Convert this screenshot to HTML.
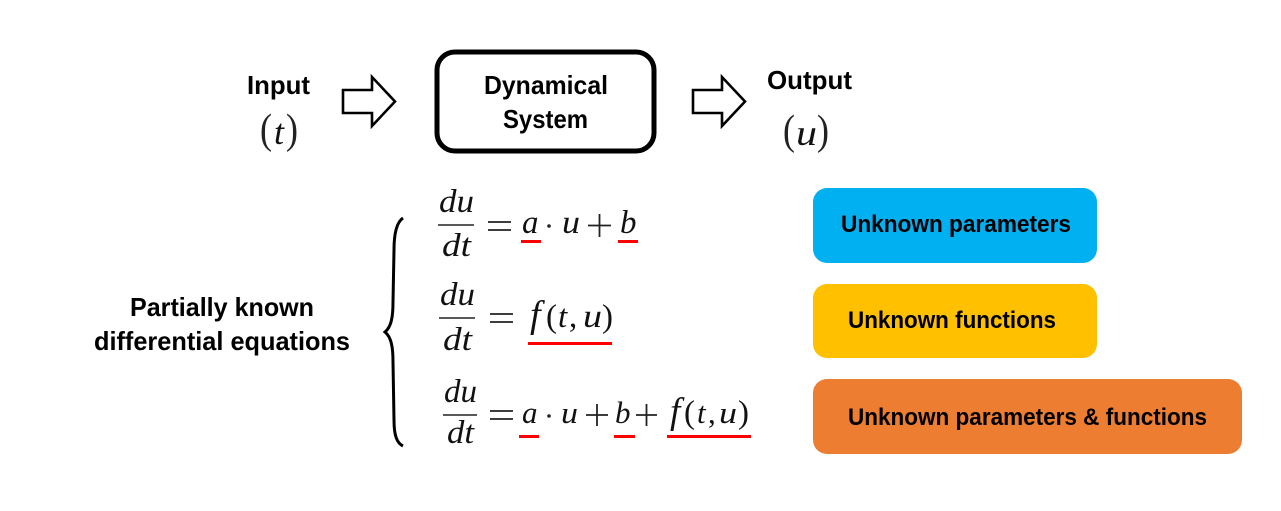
<!DOCTYPE html>
<html><head><meta charset="utf-8"><style>
html,body{margin:0;padding:0;background:#fff;width:1281px;height:511px;overflow:hidden}
svg{display:block}
.l{font-family:"Liberation Sans",sans-serif;font-weight:bold;font-size:26px;fill:#000}
.b{font-family:"Liberation Sans",sans-serif;font-weight:bold;font-size:24px;fill:#000}
.m{font-family:"Liberation Serif",serif;font-style:italic;font-size:33px;fill:#111}
.r{font-family:"Liberation Serif",serif;font-size:33px;fill:#111}
.p{font-family:"Liberation Serif",serif;font-size:42px;fill:#222}
</style></head><body>
<svg width="1281" height="511" viewBox="0 0 1281 511" xmlns="http://www.w3.org/2000/svg">
<rect width="1281" height="511" fill="#fff"/>
<text class="l" x="247" y="94" textLength="63" lengthAdjust="spacingAndGlyphs">Input</text>
<text class="l" x="767" y="89" textLength="85" lengthAdjust="spacingAndGlyphs">Output</text>
<text class="p" x="260" y="143" textLength="12" lengthAdjust="spacingAndGlyphs">(</text>
<text class="m" x="274" y="144" style="font-size:36px">t</text>
<text class="p" x="286" y="143" textLength="12" lengthAdjust="spacingAndGlyphs">)</text>
<text class="p" x="783" y="144" textLength="12" lengthAdjust="spacingAndGlyphs">(</text>
<text class="m" x="796" y="145" style="font-size:36px" textLength="21" lengthAdjust="spacingAndGlyphs">u</text>
<text class="p" x="817" y="144" textLength="12" lengthAdjust="spacingAndGlyphs">)</text>
<path d="M343 90H372V77L395 101.500L372 126V113H343Z" fill="#fff" stroke="#000" stroke-width="2.600"/>
<path d="M693 90H722V77L745 101.500L722 126V113H693Z" fill="#fff" stroke="#000" stroke-width="2.600"/>
<rect x="437" y="52" width="217" height="99" rx="18" fill="#fff" stroke="#000" stroke-width="5"/>
<text class="l" x="484" y="94" textLength="124" lengthAdjust="spacingAndGlyphs">Dynamical</text>
<text class="l" x="503" y="128" textLength="85" lengthAdjust="spacingAndGlyphs">System</text>
<text class="l" x="130" y="316" textLength="184" lengthAdjust="spacingAndGlyphs">Partially known</text>
<text class="l" x="94" y="350" textLength="256" lengthAdjust="spacingAndGlyphs">differential equations</text>
<path d="M403 218C397 222 394 232 394 250L393 302C393 318 391 327 385 332C391 337 393 346 393 362L394 420C394 436 397 443 403 446" fill="none" stroke="#000" stroke-width="3"/>
<g stroke="#222" stroke-width="1.400">
<path d="M438 225H474M439 318H475M443 415H477"/>
</g>
<text class="m" x="439" y="212" textLength="35" lengthAdjust="spacingAndGlyphs">du</text>
<text class="m" x="442" y="256" textLength="29" lengthAdjust="spacingAndGlyphs">dt</text>
<text class="m" x="440" y="305" textLength="35" lengthAdjust="spacingAndGlyphs">du</text>
<text class="m" x="443" y="350" textLength="29" lengthAdjust="spacingAndGlyphs">dt</text>
<text class="m" x="444" y="402" textLength="33" lengthAdjust="spacingAndGlyphs">du</text>
<text class="m" x="447" y="443" textLength="27" lengthAdjust="spacingAndGlyphs">dt</text>
<g stroke="#222" stroke-width="1.800" fill="none">
<path d="M488 222H511M488 230H511"/>
<path d="M490 314H513M490 322H513"/>
<path d="M490 411H513M490 419H513"/>
<path d="M588 225.500H611M599.500 214V237"/>
<path d="M586 415H608M597 404V426"/>
<path d="M636 415H657M646.500 404V426"/>
</g>
<circle cx="549" cy="226" r="1.800" fill="#222"/>
<circle cx="549" cy="416" r="1.800" fill="#222"/>
<text class="m" x="522" y="233">a</text>
<text class="m" x="562" y="233" textLength="18" lengthAdjust="spacingAndGlyphs">u</text>
<text class="m" x="620" y="233">b</text>
<text class="m" x="530" y="327" style="font-size:38px">f</text>
<text class="r" x="546" y="327">(</text>
<text class="m" x="558" y="327">t</text>
<text class="r" x="569" y="327">,</text>
<text class="m" x="583" y="327" textLength="19" lengthAdjust="spacingAndGlyphs">u</text>
<text class="r" x="602" y="327">)</text>
<text class="m" x="522" y="423" style="font-size:31px">a</text>
<text class="m" x="561" y="423" textLength="17" lengthAdjust="spacingAndGlyphs" style="font-size:31px">u</text>
<text class="m" x="615" y="423" style="font-size:31px">b</text>
<text class="m" x="670" y="423" style="font-size:37px">f</text>
<text class="r" x="684" y="423">(</text>
<text class="m" x="697" y="423" style="font-size:31px">t</text>
<text class="r" x="708" y="423" style="font-size:31px">,</text>
<text class="m" x="719" y="423" textLength="18" lengthAdjust="spacingAndGlyphs" style="font-size:31px">u</text>
<text class="r" x="738" y="423">)</text>
<g fill="#f00">
<rect x="521" y="240" width="20" height="3"/>
<rect x="618" y="240" width="20" height="3"/>
<rect x="528" y="342" width="84" height="3"/>
<rect x="519" y="435" width="20" height="3"/>
<rect x="614" y="435" width="21" height="3"/>
<rect x="667" y="435" width="84" height="3"/>
</g>
<rect x="813" y="188" width="284" height="75" rx="14" fill="#00B0F0"/>
<rect x="813" y="284" width="284" height="74" rx="14" fill="#FFC000"/>
<rect x="813" y="379" width="429" height="75" rx="14" fill="#ED7D31"/>
<text class="b" x="841" y="232" textLength="230" lengthAdjust="spacingAndGlyphs">Unknown parameters</text>
<text class="b" x="848" y="328" textLength="208" lengthAdjust="spacingAndGlyphs">Unknown functions</text>
<text class="b" x="848" y="425" textLength="359" lengthAdjust="spacingAndGlyphs">Unknown parameters &amp; functions</text>
</svg>
</body></html>
